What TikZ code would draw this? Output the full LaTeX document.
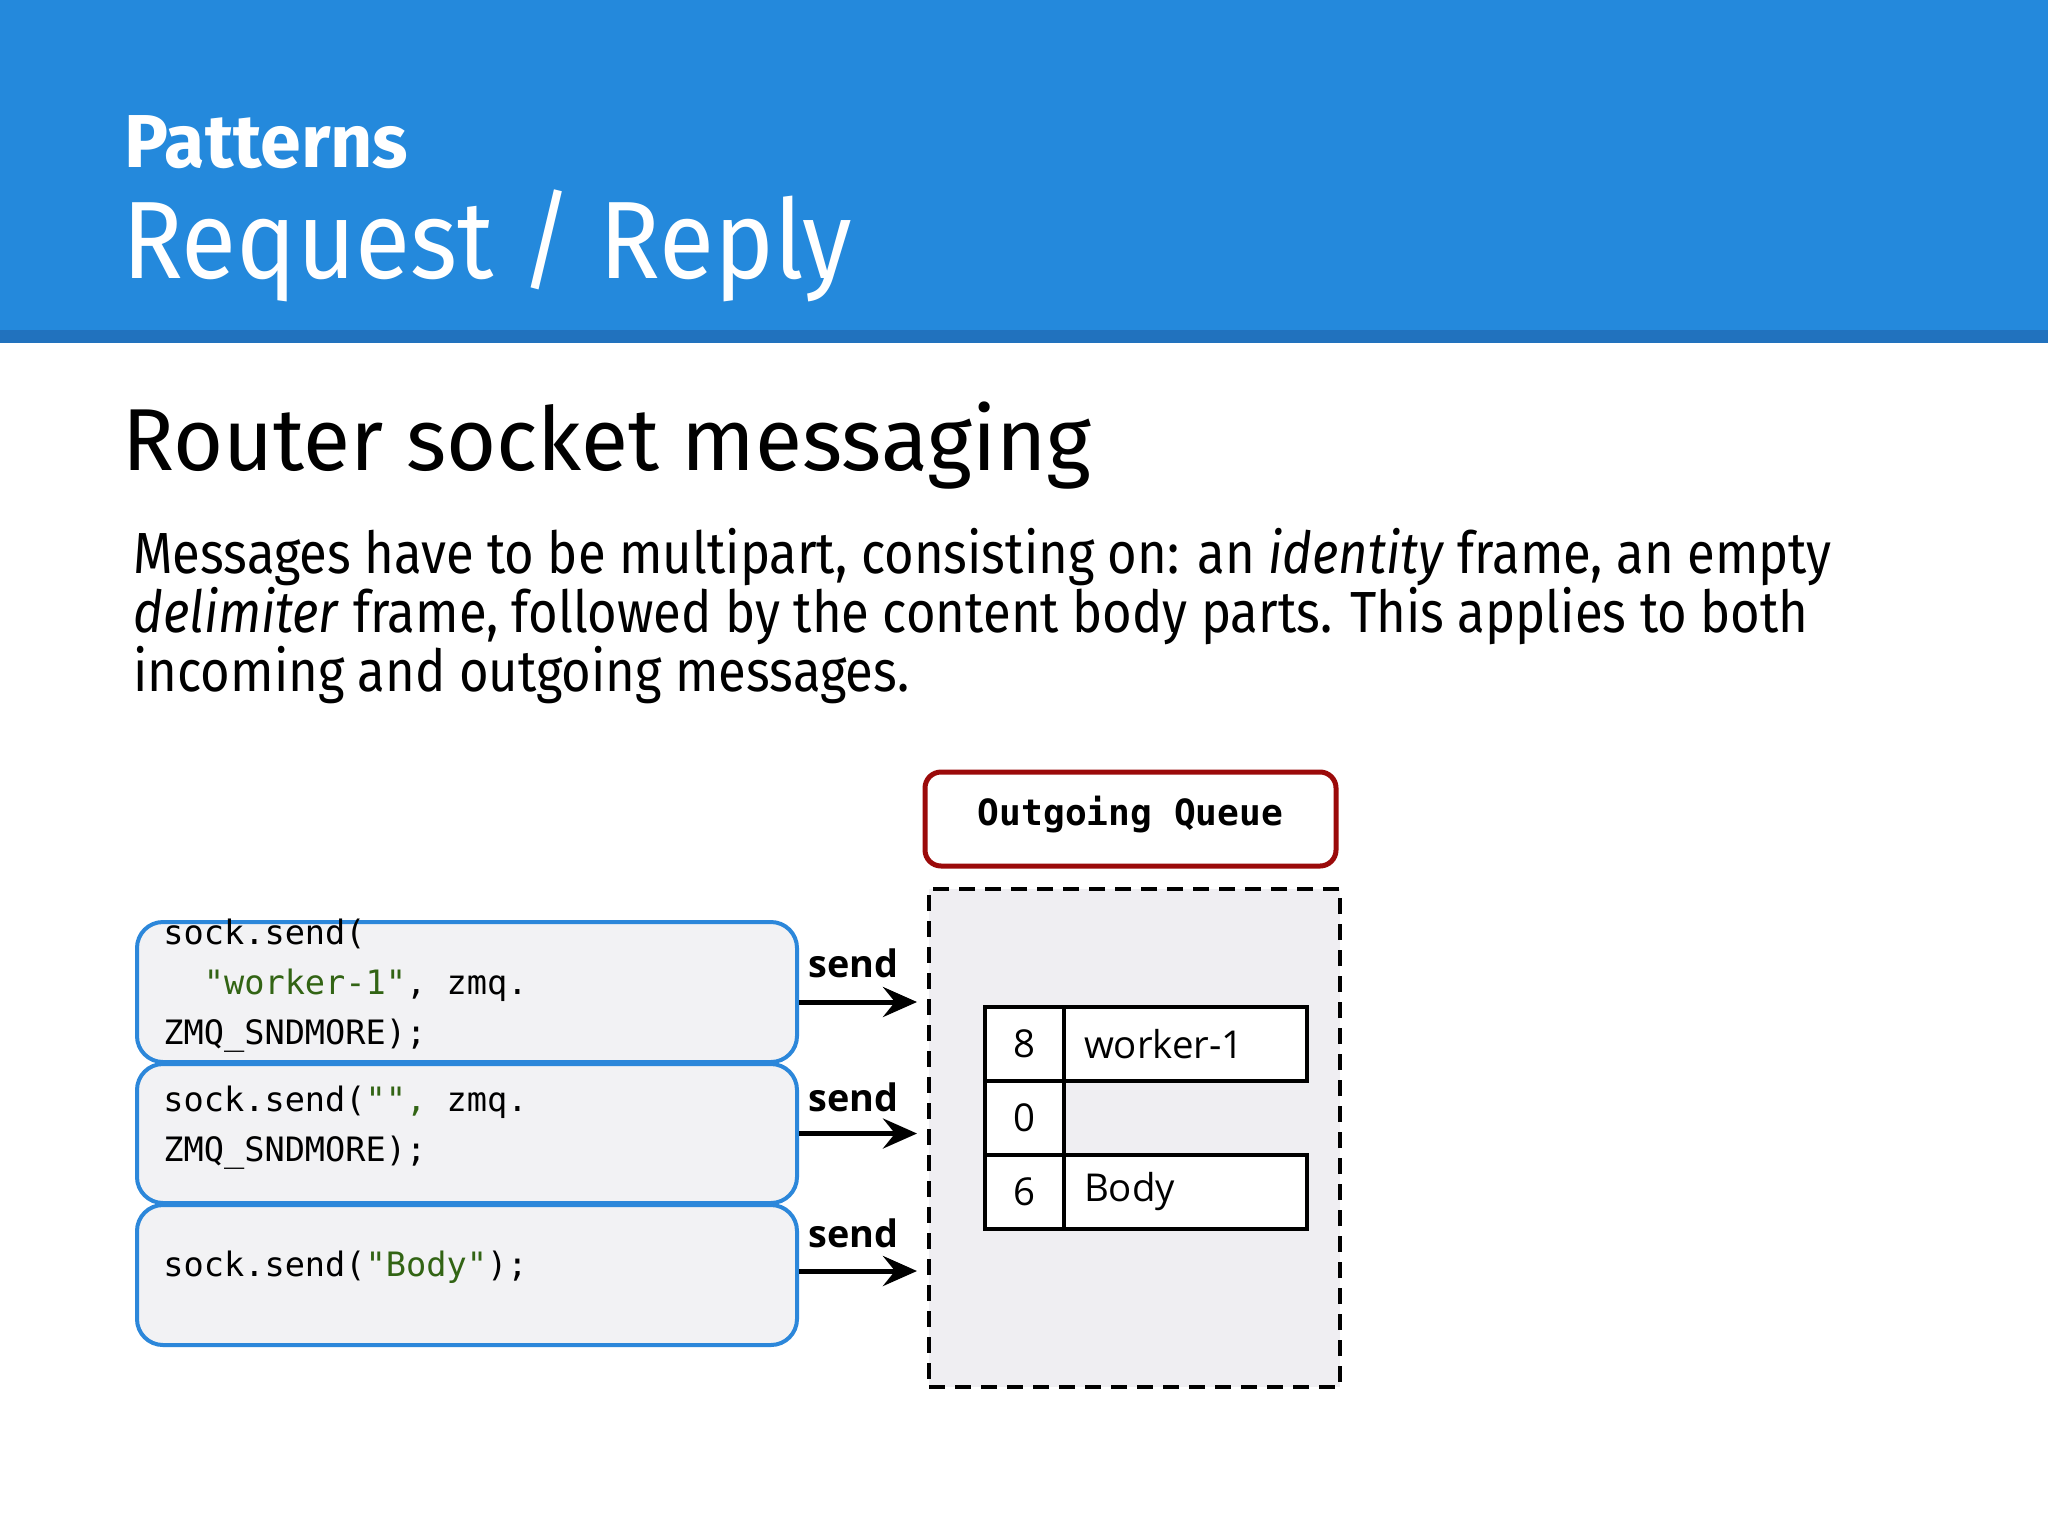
\documentclass[tikz,border=0pt]{standalone}
\usepackage{fontspec}
\setmainfont{Fira Sans}
\newfontfamily\monof{DejaVu Sans Mono}
\newfontfamily\opens{Open Sans}
\usetikzlibrary{arrows.meta}
\definecolor{hdrblue}{RGB}{36,137,220}
\definecolor{hdrstripe}{RGB}{33,114,190}
\definecolor{boxblue}{RGB}{44,135,218}
\definecolor{boxfill}{RGB}{242,242,244}
\definecolor{qfill}{RGB}{239,238,242}
\definecolor{qred}{RGB}{155,10,10}
\definecolor{strgreen}{RGB}{50,100,20}
\begin{document}
\begin{tikzpicture}[x=0.5pt,y=-0.5pt,
  codebox/.style={draw=boxblue,line width=2pt,fill=boxfill,rounded corners=13pt,minimum width=330pt,inner sep=0pt},
  codetxt/.style={anchor=base west,inner sep=0pt,font=\monof\fontsize{16.8pt}{20pt}\selectfont},
  sendlbl/.style={anchor=base west,inner sep=0pt,font=\opens\bfseries\fontsize{18.9pt}{20pt}\selectfont},
  sendarrow/.style={line width=2.5pt,-{Stealth[length=17pt,width=15pt,inset=6pt]}},
  cell/.style={draw,line width=2pt,fill=white,inner sep=0pt,minimum height=37pt},
  celltxt/.style={font=\opens\fontsize{19.2pt}{20pt}\selectfont},
  hdrtxt/.style={anchor=base west,inner sep=0pt},
  paratxt/.style={hdrtxt,font=\fontsize{29pt}{30pt}\selectfont}
]
\useasboundingbox (0,0) rectangle (2048,1536);
\fill[white] (0,0) rectangle (2048,1536);
\fill[hdrblue] (0,0) rectangle (2048,330);
\fill[hdrstripe] (0,330) rectangle (2048,343);

\node[hdrtxt,text=white,font=\bfseries\fontsize{37.5pt}{40pt}\selectfont] (pat) at (124,167) {\scalebox{0.98}[1]{Patterns}};
\node[hdrtxt,text=white,font=\fontsize{55pt}{60pt}\selectfont] (rr) at (122,278) {\scalebox{0.916}[1]{Request / Reply}};
\node[hdrtxt,font=\fontsize{44pt}{48pt}\selectfont] (rsm) at (122,470) {\scalebox{0.978}[1]{Router socket messaging}};
\node[paratxt] (p1) at (133,573) {\scalebox{0.876}[1]{Messages have to be multipart, consisting on: an \textit{identity} frame, an empty}};
\node[paratxt] (p2) at (133,632) {\scalebox{0.876}[1]{\textit{delimiter} frame, followed by the content body parts. This applies to both}};
\node[paratxt] (p3) at (133,691) {\scalebox{0.876}[1]{incoming and outgoing messages.}};

% code boxes
\node[codebox,minimum height=70pt] (b1) at (467,992) {};
\node[codebox,minimum height=69.5pt] (b2) at (467,1133.5) {};
\node[codebox,minimum height=70pt] (b3) at (467,1275) {};

\node[codetxt] (c1a) at (163,944) {sock.send(};
\node[codetxt] (c1b) at (163,994) {\ \ {\color{strgreen}"worker-1"}, zmq.};
\node[codetxt] (c1c) at (163,1044) {ZMQ\_SNDMORE);};
\node[codetxt] (c2a) at (163,1111) {sock.send({\color{strgreen}"",} zmq.};
\node[codetxt] (c2b) at (163,1161) {ZMQ\_SNDMORE);};
\node[codetxt] (c3a) at (163,1276) {sock.send({\color{strgreen}"Body"});};

% queue
\node[draw=qred,line width=2.5pt,rounded corners=8pt,fill=white,minimum width=205.5pt,minimum height=47pt,inner sep=0pt] (oq) at (1130.5,819) {};
\node[font=\monof\bfseries\fontsize{18.1pt}{20pt}\selectfont,inner sep=0pt] (oqt) at ([yshift=2pt]oq.center) {Outgoing Queue};
\node[draw,fill=qfill,line width=2pt,dash pattern=on 8pt off 5pt,minimum width=205.5pt,minimum height=249pt,inner sep=0pt] (q) at (1134.5,1138) {};

% table
\node[cell,minimum width=39.5pt,celltxt] (n1) at (1024.5,1044) {8};
\node[cell,minimum width=121.5pt,celltxt,text width=101.5pt,inner xsep=10pt,align=left] (v1) at (1185.5,1044) {worker-1};
\node[cell,minimum width=39.5pt,celltxt] (n2) at (1024.5,1118) {0};
\node[cell,minimum width=39.5pt,celltxt] (n3) at (1024.5,1192) {6};
\node[cell,minimum width=121.5pt,celltxt,text width=101.5pt,inner xsep=10pt,align=left] (v3) at (1185.5,1192) {Body};

% arrows
\draw[sendarrow,shorten >=5pt] ([yshift=-5pt]b1.east) -- ([yshift=-5pt]b1.east -| q.west);
\draw[sendarrow,shorten >=5pt] (b2.east) -- (b2.east -| q.west);
\draw[sendarrow,shorten >=5pt] ([yshift=2pt]b3.east) -- ([yshift=2pt]b3.east -| q.west);

\node[sendlbl] (s1) at (808,977) {send};
\node[sendlbl] (s2) at (808,1111) {send};
\node[sendlbl] (s3) at (808,1247) {send};
\end{tikzpicture}
\end{document}
